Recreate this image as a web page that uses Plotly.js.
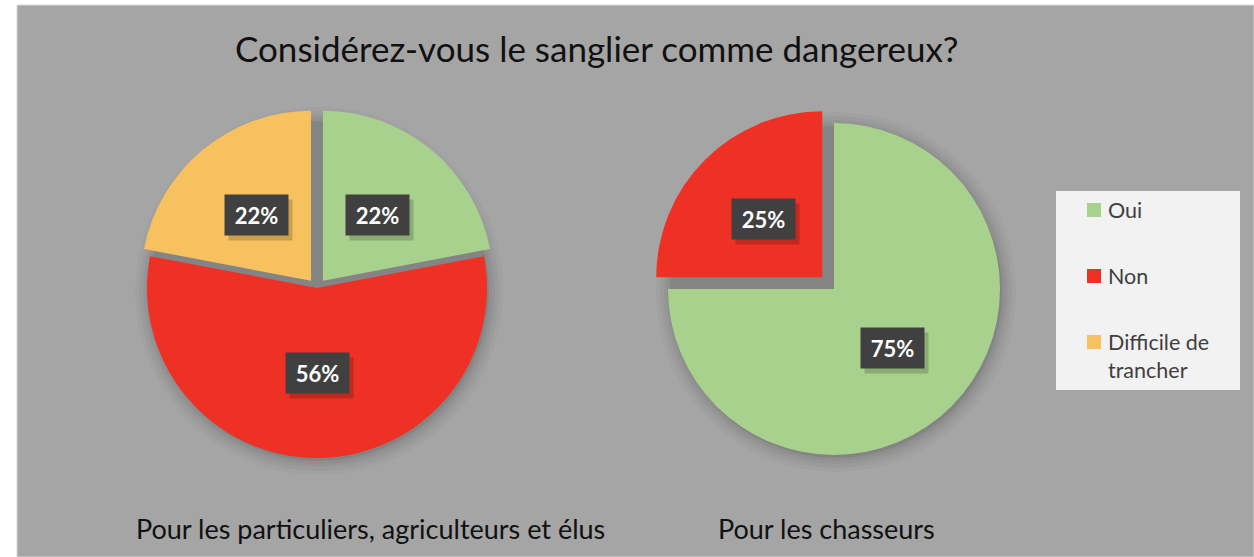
<!DOCTYPE html>
<html>
<head>
<meta charset="utf-8">
<script src="https://cdn.plot.ly/plotly-3.0.1.min.js"></script>
<style>html,body{margin:0;padding:0;background:#fff;}#chart{width:1254px;height:557px;}</style>
</head>
<body>
<div id="chart"></div>
<script>
// ---- data ----
const categories = ['Oui', 'Non', 'Difficile de trancher'];
const legendLabels = ['Oui', 'Non', 'Difficile de<br>trancher'];
const valuesParticuliers = [22, 56, 22];
const valuesChasseurs = [75, 25, 0];
const chartTitle = 'Considérez-vous le sanglier comme dangereux?';
const groupTitles = ['Pour les particuliers, agriculteurs et élus', 'Pour les chasseurs'];
const colors = ['#a9d18e', '#ee3124', '#f8c160'];

// ---- layout config (pixels) ----
const W = 1254, H = 557;
const FONT = 'Lato, "Open Sans", sans-serif';
const pies = [
  {values: valuesParticuliers, cx: 317, cy: 288, r: 170, pull: [0.055, 0, 0.055], title: groupTitles[0], titleX: 370},
  {values: valuesChasseurs, cx: 834, cy: 289, r: 166, pull: [0, 0.10, 0], title: groupTitles[1], titleX: 826}
];

const px = x => x / W;
const py = y => 1 - y / H;

const traces = [];
const annotations = [];
const shapes = [
  {type: 'rect', xref: 'paper', yref: 'paper', x0: px(17), x1: px(1254), y0: py(557), y1: py(5),
   fillcolor: '#a5a5a5', line: {color: '#d9d9d9', width: 1}, layer: 'below'}
];

pies.forEach((p, k) => {
  const maxPull = Math.max(...p.pull);
  const half = p.r * (1 + maxPull);
  const dom = {x: [px(p.cx - half), px(p.cx + half)], y: [py(p.cy + half), py(p.cy - half)]};
  // soft shadow layers
  [[14, 0.025], [10, 0.03], [6, 0.035], [3, 0.04], [0, 0.07]].forEach(([extra, a]) => {
    const rr = p.r + extra;
    traces.push({
      type: 'pie', labels: ['ombre' + k + extra], values: [1], sort: false,
      marker: {colors: ['rgba(0,0,0,' + a + ')'], line: {width: 0}},
      domain: {x: [px(p.cx + 2 - rr), px(p.cx + 2 + rr)], y: [py(p.cy + 3 + rr), py(p.cy + 3 - rr)]},
      textinfo: 'none', hoverinfo: 'skip', showlegend: false
    });
  });
  traces.push({
    type: 'pie', labels: categories, values: p.values, sort: false, direction: 'clockwise', rotation: 0,
    pull: p.pull, marker: {colors: colors, line: {width: 0}}, domain: dom,
    textinfo: 'none', hovertemplate: '%{label}: %{percent}<extra></extra>', showlegend: false
  });
  // data labels computed from pie geometry
  const total = p.values.reduce((a, b) => a + b, 0);
  let cum = 0;
  p.values.forEach((v, i) => {
    const th = 2 * Math.PI * (cum + v / 2) / total;
    cum += v;
    if (v <= 0) return;
    const sx = p.cx + p.pull[i] * p.r * Math.sin(th);
    const sy = p.cy - p.pull[i] * p.r * Math.cos(th);
    const lx = sx + 0.5 * p.r * Math.sin(th);
    const ly = sy - 0.5 * p.r * Math.cos(th);
    const txt = Math.round(v / total * 100) + '%';
    annotations.push({xref: 'paper', yref: 'paper', x: px(lx + 4), y: py(ly + 5), text: ' ', showarrow: false,
      width: 63, height: 40, bgcolor: 'rgba(0,0,0,0.18)', borderpad: 0, xanchor: 'center', yanchor: 'middle'});
    annotations.push({xref: 'paper', yref: 'paper', x: px(lx), y: py(ly), text: '<b>' + txt + '</b>', showarrow: false,
      width: 63, height: 40, bgcolor: '#404040', borderpad: 0, xanchor: 'center', yanchor: 'middle',
      font: {family: FONT, size: 22, color: '#ffffff'}});
  });
  annotations.push({xref: 'paper', yref: 'paper', x: px(p.titleX), y: py(528), text: p.title, showarrow: false,
    xanchor: 'center', yanchor: 'middle', font: {family: FONT, size: 27, color: '#111111'}});
});

// custom legend
shapes.push({type: 'rect', xref: 'paper', yref: 'paper', x0: px(1056), x1: px(1240), y0: py(390), y1: py(191),
  fillcolor: '#f2f2f2', line: {width: 0}, layer: 'above'});
const legY = [210, 276, 342];
categories.forEach((c, i) => {
  shapes.push({type: 'rect', xref: 'paper', yref: 'paper', x0: px(1087), x1: px(1101), y0: py(legY[i] + 7), y1: py(legY[i] - 7),
    fillcolor: colors[i], line: {width: 0}, layer: 'above'});
  annotations.push({xref: 'paper', yref: 'paper', x: px(1106), y: py(legY[i] - 15), text: legendLabels[i], showarrow: false,
    xanchor: 'left', yanchor: 'top', align: 'left', font: {family: FONT, size: 21.5, color: '#404040'}});
});

annotations.push({xref: 'paper', yref: 'paper', x: px(597), y: py(48), text: chartTitle, showarrow: false,
  xanchor: 'center', yanchor: 'middle', font: {family: FONT, size: 35, color: '#111111'}});

const layout = {
  width: W, height: H, margin: {l: 0, r: 0, t: 0, b: 0},
  paper_bgcolor: '#ffffff', showlegend: false,
  shapes: shapes, annotations: annotations
};
Plotly.newPlot('chart', traces, layout, {displayModeBar: false, staticPlot: true});
</script>
</body>
</html>
